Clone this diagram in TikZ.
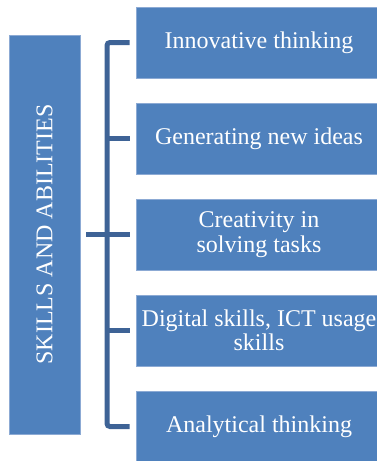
\documentclass[tikz,border=0pt]{standalone}
\usepackage{fontspec}
\setmainfont{Liberation Serif}
\begin{document}
\begin{tikzpicture}[x=1pt,y=-1pt,
  skillbox/.style={fill={rgb,255:red,79;green,129;blue,189},
    draw={rgb,255:red,140;green,170;blue,212}, line width=0.6pt,
    text=white, align=center, inner sep=0pt,
    font=\fontsize{24}{24.5}\selectfont},
  itembox/.style={skillbox, minimum width=246pt, minimum height=71pt},
  bracket/.style={draw={rgb,255:red,62;green,99;blue,150}, line width=5pt,
    rounded corners=3pt}]
  \useasboundingbox (0,0) rectangle (377,461);

  % main category, text running upwards
  \node[skillbox, minimum width=71pt, minimum height=399pt] (main) at (44.5,234.5)
    {\rotatebox{90}{SKILLS AND ABILITIES}};

  % the five skills
  \node[itembox] (s1) at (259,42.5) {Innovative thinking};
  \node[itembox] (s2) at (259,138.5) {Generating new ideas};
  \node[itembox] (s3) at (259,234.5) {Creativity in\\solving tasks};
  \node[itembox] (s4) at (259,330.5) {Digital skills, ICT usage\\skills};
  \node[itembox] (s5) at (259,426.5) {Analytical thinking};

  % bracket joining the category to its skills
  \coordinate (spine) at (107,0);
  \draw[bracket] ([xshift=-6pt]s1.west) -- (s1.west -| spine)
    -- (s5.west -| spine) -- ([xshift=-6pt]s5.west);
  \foreach \s in {s2,s3,s4}
    \draw[bracket, rounded corners=0pt] ([xshift=-6pt]\s.west) -- (\s.west -| spine);
  \draw[bracket, rounded corners=0pt] ([xshift=6pt]main.east) -- (main.east -| spine);
\end{tikzpicture}
\end{document}
